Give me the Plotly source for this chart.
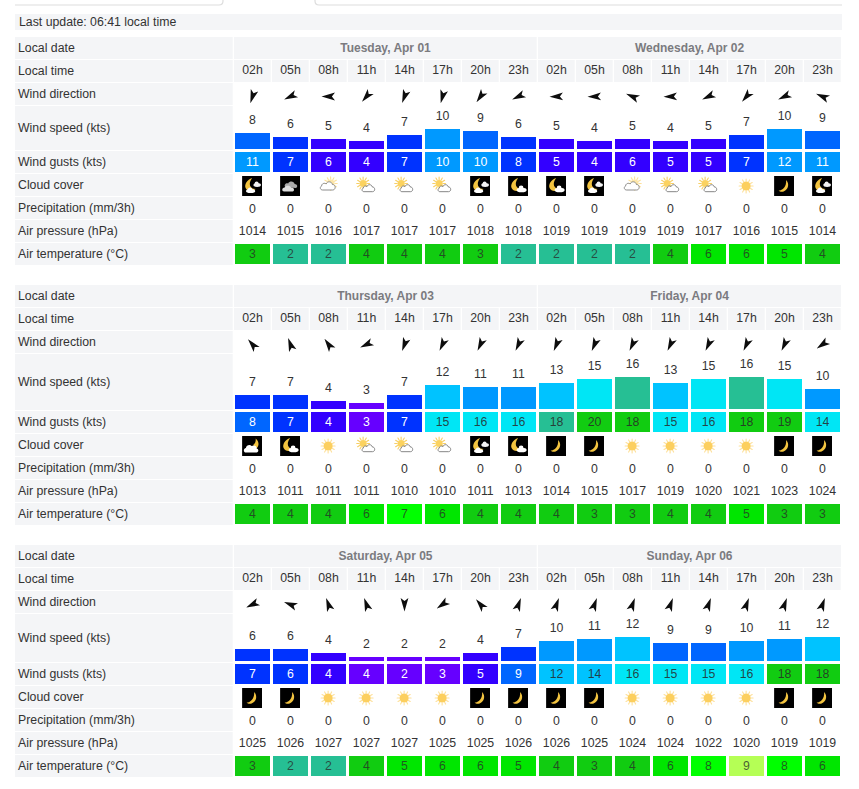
import base64
import math
import plotly.graph_objects as go

# ---------- data ----------
last_update = "Last update: 06:41 local time"
row_labels = ["Local date", "Local time", "Wind direction", "Wind speed (kts)", "Wind gusts (kts)",
              "Cloud cover", "Precipitation (mm/3h)", "Air pressure (hPa)", "Air temperature (°C)"]
hours = ["02h", "05h", "08h", "11h", "14h", "17h", "20h", "23h"] * 2

days_1 = ["Tuesday, Apr 01", "Wednesday, Apr 02"]
direction_1 = [198, 245, 270, 220, 200, 195, 215, 245, 268, 268, 293, 268, 245, 220, 245, 293]
speed_1 = [8, 6, 5, 4, 7, 10, 9, 6, 5, 4, 5, 4, 5, 7, 10, 9]
gust_1 = [11, 7, 5.6, 4, 7, 10, 10, 7.6, 5, 4, 5.6, 5, 5, 7, 11.6, 11]
cloud_1 = ["mc", "ng", "cs", "sc", "sc", "sc", "mc", "ml", "ml", "mc", "cs", "sc", "sc", "s", "m", "mc"]
precip_1 = [0] * 16
pressure_1 = [1014, 1015, 1016, 1017, 1017, 1017, 1018, 1018, 1019, 1019, 1019, 1019, 1017, 1016, 1015, 1014]
temp_1 = [3, 2, 2, 4, 4, 4, 3, 2, 2, 2, 2, 4, 6, 6, 5, 4]

days_2 = ["Thursday, Apr 03", "Friday, Apr 04"]
direction_2 = [320, 340, 325, 245, 200, 205, 205, 205, 203, 203, 205, 205, 205, 205, 205, 235]
speed_2 = [7, 7, 4, 3, 7, 12, 11, 11, 13, 15, 16, 13, 15, 16, 15, 10]
gust_2 = [8, 7, 4, 3, 7, 15, 15.6, 15.6, 17.6, 20, 18, 15, 15.6, 18, 19, 14]
cloud_2 = ["mb", "ml", "s", "sc", "sc", "sc", "mc", "ml", "m", "m", "s", "s", "s", "s", "m", "m"]
precip_2 = [0] * 16
pressure_2 = [1013, 1011, 1011, 1011, 1010, 1010, 1011, 1013, 1014, 1015, 1017, 1019, 1020, 1021, 1023, 1024]
temp_2 = [4, 4, 4, 6, 7, 6, 4, 4, 4, 3, 3, 4, 4, 5, 3, 3]

days_3 = ["Saturday, Apr 05", "Sunday, Apr 06"]
direction_3 = [245, 292, 340, 340, 180, 235, 320, 20, 20, 20, 20, 20, 20, 20, 20, 20]
speed_3 = [6, 6, 4, 2, 2, 2, 4, 7, 10, 11, 12, 9, 9, 10, 11, 12]
gust_3 = [7, 6, 4, 3.6, 2, 3, 5, 9, 12, 13.6, 15.6, 15, 15, 15.6, 18, 18]
cloud_3 = ["m", "m", "s", "s", "s", "s", "m", "m", "m", "m", "s", "s", "s", "s", "m", "m"]
precip_3 = [0] * 16
pressure_3 = [1025, 1026, 1027, 1027, 1027, 1025, 1025, 1026, 1026, 1025, 1024, 1024, 1022, 1020, 1019, 1019]
temp_3 = [3, 2, 2, 4, 5, 6, 6, 5, 4, 3, 4, 6, 8, 9, 8, 6]

# ---------- layout constants (pixels of the 859x789 page) ----------
W, H = 859, 789
COL0, STEP = 252.5, 38.0
BG = "#f4f5f7"
INK = "#333333"
FONT = "Liberation Sans"
SIZE = 12.3


def col_edge(px):
    return (px - COL0) / STEP


def wind_color(v):
    bands = [(4, "#6600ff"), (6, "#3300ff"), (8, "#0033ff"), (10, "#0066ff"), (12, "#0099ff"),
             (14, "#00c3ff"), (16, "#00e6f5"), (18, "#26bf94")]
    for lim, c in bands:
        if v < lim:
            return c
    return "#11cc11"


def temp_color(v):
    bands = [(3, "#26bf94"), (5, "#11cc11"), (7, "#00e600"), (9, "#00ff00")]
    for lim, c in bands:
        if v < lim:
            return c
    return "#b5ff55"


def svg_uri(body):
    svg = ('<svg xmlns="http://www.w3.org/2000/svg" width="20" height="20" viewBox="0 0 20 20">'
           + body + "</svg>")
    return "data:image/svg+xml;base64," + base64.b64encode(svg.encode()).decode()


def sun(cx, cy, r, r0, r1, core="#fccf5e", ray="#fde09a"):
    lines = "".join('<line x1="%.1f" y1="%.1f" x2="%.1f" y2="%.1f"/>' % (
        cx + r0 * math.cos(a * math.pi / 6), cy + r0 * math.sin(a * math.pi / 6),
        cx + r1 * math.cos(a * math.pi / 6), cy + r1 * math.sin(a * math.pi / 6)) for a in range(12))
    return ('<g stroke="%s" stroke-width="1.1" stroke-linecap="round">%s</g>'
            '<circle cx="%s" cy="%s" r="%s" fill="%s"/>' % (ray, lines, cx, cy, r, core))


BLACK = '<rect width="20" height="20" fill="#000"/>'
GOLD = "#f3c440"
CRESCENT = ('<path d="M12,4 C15.5,7.5 14.5,13.5 9.5,15.5 C7.5,16.2 5.5,15.8 4.5,14.6 '
            'C8.5,14.5 12.6,10.5 12,4Z" fill="%s"/>' % GOLD)
BIG_CRESCENT = ('<path d="M10,2 C5,3.5 2,8.5 3.5,12 C5,15.5 10,16 13.5,13 '
                'C8,13 5.5,8 10,2Z" fill="%s"/>' % GOLD)
CLOUD_PATH = ("M4,15.5 C1.5,15.5 0.8,12.5 3,11.5 C3,9 6,8 7.5,9.5 C8.5,6.5 13,6.5 13.8,10 "
              "C16.5,9.8 17.5,13.5 15.5,15 C15,15.4 14.5,15.5 14,15.5Z")
ICONS = {
    "s": svg_uri(sun(10, 10, 4.6, 5.0, 7.0)),
    "m": svg_uri(BLACK + CRESCENT),
    "mc": svg_uri(BLACK + BIG_CRESCENT
                  + '<ellipse cx="15" cy="9" rx="3.8" ry="1.9" fill="#f4f4f4"/><circle cx="14.5" cy="7.6" r="2" fill="#f4f4f4"/>'
                  + '<ellipse cx="8.5" cy="15" rx="4.6" ry="2" fill="#fff"/><circle cx="8" cy="13.6" r="2.2" fill="#fff"/>'),
    "ml": svg_uri(BLACK + BIG_CRESCENT
                  + '<ellipse cx="13.5" cy="14" rx="5" ry="2.3" fill="#fff"/>'
                  + '<circle cx="13" cy="12" r="2.4" fill="#fff"/>'),
    "mb": svg_uri(BLACK
                  + '<path d="M13.5,2.5 C17,5 17.5,10 14,12.5 L11,9 C13,8 14,5 13.5,2.5Z" fill="%s"/>' % GOLD
                  + '<path d="M4,16.5 C1,16.5 1,12.5 3.8,12 C4,9 8,8 9.5,10 C12,8.5 15,10 14.5,12.5 '
                    'C17,13 16.5,16.5 14.5,16.5Z" fill="#fff"/>'),
    "ng": svg_uri(BLACK
                  + '<path d="M5,11 C3.5,9 6,6.5 8,7.5 C9.5,4.5 14,5 14.5,8 C17.5,8 18,11.5 15.5,12Z" fill="#aaa"/>'
                  + '<path d="M4,15.5 C1.5,15.5 1.5,11.5 4.5,11.5 C5.5,9 10,9 11,11.5 C14,11 15,15 12.5,15.5Z" fill="#ddd"/>'),
    "cs": svg_uri(sun(12.5, 7.5, 4, 4.4, 6.6, core="#fde6a8")
                  + '<g transform="translate(0.5,-1.5)"><path d="%s" fill="#fff" stroke="#808080" stroke-width="0.9"/></g>' % CLOUD_PATH),
    "sc": svg_uri(sun(7, 7.5, 3.6, 4.0, 6.4, core="#fbd25f", ray="#f6cf66")
                  + '<g transform="translate(4.5,2.5) scale(0.85)"><path d="%s" fill="#fff" stroke="#777" stroke-width="1.05"/></g>' % CLOUD_PATH),
}

# local outline of the wind arrow: tip up, notch at the tail
ARROW = [(0.0, -7.0), (3.9, 6.5), (0.0, 3.4), (-3.9, 6.5), (0.0, -7.0)]


def arrow_path(bearings, cy):
    xs, ys = [], []
    for i, b in enumerate(bearings):
        t = math.radians(b)
        for lx, ly in ARROW:
            dx = lx * math.cos(t) - ly * math.sin(t)
            dy = lx * math.sin(t) + ly * math.cos(t)
            xs.append(i + dx / STEP)
            ys.append(cy + dy)
        xs.append(None)
        ys.append(None)
    return xs, ys


blocks = [
    dict(top=37, speed_h=44, days=days_1, direction=direction_1, speed=speed_1, gust=gust_1,
         cloud=cloud_1, precip=precip_1, pressure=pressure_1, temp=temp_1),
    dict(top=285, speed_h=56, days=days_2, direction=direction_2, speed=speed_2, gust=gust_2,
         cloud=cloud_2, precip=precip_2, pressure=pressure_2, temp=temp_2),
    dict(top=545, speed_h=48, days=days_3, direction=direction_3, speed=speed_3, gust=gust_3,
         cloud=cloud_3, precip=precip_3, pressure=pressure_3, temp=temp_3),
]

fig = go.Figure()
shapes, annotations, images = [], [], []
cols = list(range(16))
BAR_W = 35 / STEP


def rect(x0, y0, x1, y1, color=BG):
    shapes.append(dict(type="rect", xref="paper", yref="paper", x0=x0 / W, x1=x1 / W,
                       y0=1 - y0 / H, y1=1 - y1 / H, fillcolor=color, line_width=0, layer="below"))


def values_text(y, values, colors=INK, yaxis="y"):
    fig.add_trace(go.Scatter(x=cols, y=y, mode="text", text=[str(v) for v in values], yaxis=yaxis,
                             textposition="middle center", hoverinfo="skip", cliponaxis=False,
                             textfont=dict(family=FONT, size=SIZE, color=colors)))


def cells(top, height, colors):
    fig.add_trace(go.Bar(x=cols, y=[height] * 16, base=[top] * 16, width=BAR_W, marker_color=colors,
                         marker_line_width=0, hoverinfo="skip"))


def px_path(segments):
    out = []
    for seg in segments:
        cmd, pts = seg[0], seg[1:]
        out.append(cmd + " " + " ".join("%.5f %.5f" % (pts[k] / W, 1 - pts[k + 1] / H)
                                        for k in range(0, len(pts), 2)))
    return " ".join(out)


# tabs above the table
for segs in [[("M", 15, 5), ("L", 219, 5), ("Q", 223, 5, 223, 1), ("L", 223, 0)],
             [("M", 315, 0), ("L", 315, 1), ("Q", 315, 5, 319, 5), ("L", 842, 5)]]:
    shapes.append(dict(type="path", xref="paper", yref="paper", path=px_path(segs),
                       line=dict(color="#dddddd", width=1.2), layer="below"))

# last-update bar
rect(15, 14, 842, 30)
annotations.append(dict(xref="paper", yref="paper", x=17 / W, y=1 - 22 / H, text=last_update,
                        showarrow=False, xanchor="left", yanchor="middle", align="left",
                        font=dict(family=FONT, size=SIZE, color=INK)))

yaxes = {}
for n, b in enumerate(blocks):
    top = b["top"]
    date_y, time_y, dir_y = top, top + 23, top + 46
    speed_y = top + 69
    gust_y = speed_y + b["speed_h"] + 1
    cloud_y, precip_y, press_y, temp_y = gust_y + 23, gust_y + 46, gust_y + 69, gust_y + 92
    row_tops = [(date_y, 22), (time_y, 22), (dir_y, 22), (speed_y, b["speed_h"]), (gust_y, 22),
                (cloud_y, 22), (precip_y, 22), (press_y, 22), (temp_y, 22)]

    # label column
    for label, (ry, rh) in zip(row_labels, row_tops):
        rect(15, ry, 232.7, ry + rh)
        annotations.append(dict(xref="paper", yref="paper", x=16 / W, y=1 - (ry + rh / 2) / H, text=label,
                                showarrow=False, xanchor="left", yanchor="middle", align="left",
                                font=dict(family=FONT, size=SIZE, color=INK)))

    # day cells and time cells
    rect(234, date_y, 536.7, date_y + 22)
    rect(538, date_y, 841, date_y + 22)
    for i in cols:
        rect(234 + STEP * i, time_y, 270.7 + STEP * i, time_y + 22)
    fig.add_trace(go.Scatter(x=[3.5, 11.5], y=[date_y + 11.5] * 2, mode="text", text=b["days"],
                             textposition="middle center", hoverinfo="skip",
                             textfont=dict(family=FONT, size=12, color="#7b7b7f", weight="bold")))
    values_text([time_y + 11] * 16, hours)

    # wind direction
    ax, ay = arrow_path(b["direction"], dir_y + 13.5)
    fig.add_trace(go.Scatter(x=ax, y=ay, mode="lines", fill="toself", fillcolor="#0d0d0d",
                             line=dict(width=0, color="#0d0d0d"), hoverinfo="skip"))

    # wind speed bars on their own knots axis: 2 px per knot
    bottom = speed_y + b["speed_h"] - 1
    name = "y%d" % (n + 2)
    yaxes["yaxis%d" % (n + 2)] = dict(domain=[1 - bottom / H, 1 - speed_y / H], range=[0, (bottom - speed_y) / 2],
                                      visible=False, anchor="x", fixedrange=True)
    fig.add_trace(go.Bar(x=cols, y=b["speed"], yaxis=name, width=BAR_W,
                         marker_color=[wind_color(v) for v in b["speed"]], marker_line_width=0, hoverinfo="skip"))
    values_text([v + 5.9 for v in b["speed"]], b["speed"], yaxis=name)

    # gusts
    cells(gust_y + 1, 20, [wind_color(v) for v in b["gust"]])
    values_text([gust_y + 11.7] * 16, [round(v) for v in b["gust"]],
                ["#ffffff" if v < 12 else "rgba(40,40,40,0.85)" for v in b["gust"]])

    # cloud icons
    for i, code in enumerate(b["cloud"]):
        images.append(dict(source=ICONS[code], xref="x", yref="y", x=i - 0.01, y=cloud_y + 12, sizex=20 / STEP, sizey=20,
                           xanchor="center", yanchor="middle", sizing="stretch", layer="above"))

    values_text([precip_y + 12.5] * 16, b["precip"])
    values_text([press_y + 11.5] * 16, b["pressure"])

    # temperature
    cells(temp_y + 1, 20, [temp_color(v) for v in b["temp"]])
    values_text([temp_y + 12] * 16, b["temp"], "rgba(40,40,40,0.75)")

fig.update_layout(
    width=W, height=H, margin=dict(l=0, r=0, t=0, b=0, pad=0), autosize=False,
    paper_bgcolor="#ffffff", plot_bgcolor="rgba(0,0,0,0)", showlegend=False,
    barmode="overlay", hovermode=False, shapes=shapes, annotations=annotations, images=images,
    xaxis=dict(range=[col_edge(0), col_edge(W)], visible=False, fixedrange=True),
    yaxis=dict(range=[H, 0], visible=False, fixedrange=True),
    **yaxes,
)

fig.write_html("out.html", config=dict(displayModeBar=False),
               post_script="document.body.style.margin='0';document.body.style.overflow='hidden';")
